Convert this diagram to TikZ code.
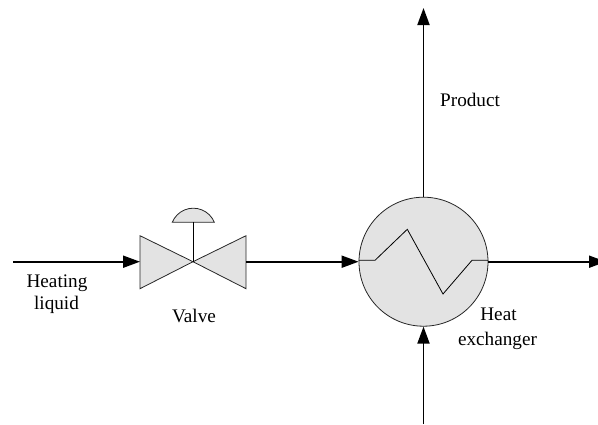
\documentclass[tikz,border=0pt]{standalone}
\usepackage{fontspec}
\setmainfont{Liberation Serif}
\usetikzlibrary{positioning,arrows.meta}
\definecolor{unitgray}{gray}{0.89}
\tikzset{
  flow/.style = {line width=1.9pt, -{Triangle[length=17pt,width=12pt]}},
  unit/.style = {draw=black!85, fill=unitgray, line width=0.8pt},
  tag/.style = {font=\fontsize{19.2}{22}\selectfont, inner sep=0pt},
}

\begin{document}
\begin{tikzpicture}[x=1pt, y=-1pt]
  \clip (0,0) rectangle (598,424);

  \node[unit, circle, minimum size=129pt, inner sep=0pt] (hx) at (423.5,261.7) {};
  \coordinate (v) at (193,261.7);
  \coordinate[left=53pt of v] (vl);
  \coordinate[right=53pt of v] (vr);
  \coordinate[above=39.5pt of v] (stem);

  \coordinate (feed) at (13,261.7);
  \coordinate (out) at (606,261.7);
  \coordinate (top) at (423.5,8);
  \coordinate (bottom) at (423.5,424);

  % valve
  \draw[unit, line join=miter] (v) -- (140,235.7) -- (140,288.7) -- cycle;
  \draw[unit, line join=miter] (v) -- (246,235.7) -- (246,288.7) -- cycle;
  \draw[unit] (172.3,222.2) arc[start angle=157.4, end angle=22.6, radius=22.75pt] -- cycle;
  \draw[line width=0.8pt] (v) -- (stem);

  % coil
  \draw[line width=0.8pt] ([yshift=1.4pt]hx.west) -- (375,260.3) -- (407.3,229.3) -- (443,294) -- (472,260.3) -- ([yshift=1.4pt]hx.east);

  \draw[flow] (feed) -- (vl);
  \draw[flow] (vr) -- (hx.west);
  \draw[flow] (hx.east) -- (out);
  \draw[flow] (hx.north) -- (top);
  \draw[flow] (bottom) -- (hx.south);

  \node[tag, anchor=base] (heating) at (57,287) {Heating};
  \node[tag, anchor=base] (liquid) at (56.5,309) {liquid};
  \node[tag, anchor=base] (valvelabel) at (194,322) {Valve};
  \node[tag, anchor=base west] (productlabel) at (440,106) {Product};
  \node[tag, anchor=base] (heat) at (498.5,320) {Heat};
  \node[tag, anchor=base] (exchanger) at (497.5,345) {exchanger};
\end{tikzpicture}
\end{document}
